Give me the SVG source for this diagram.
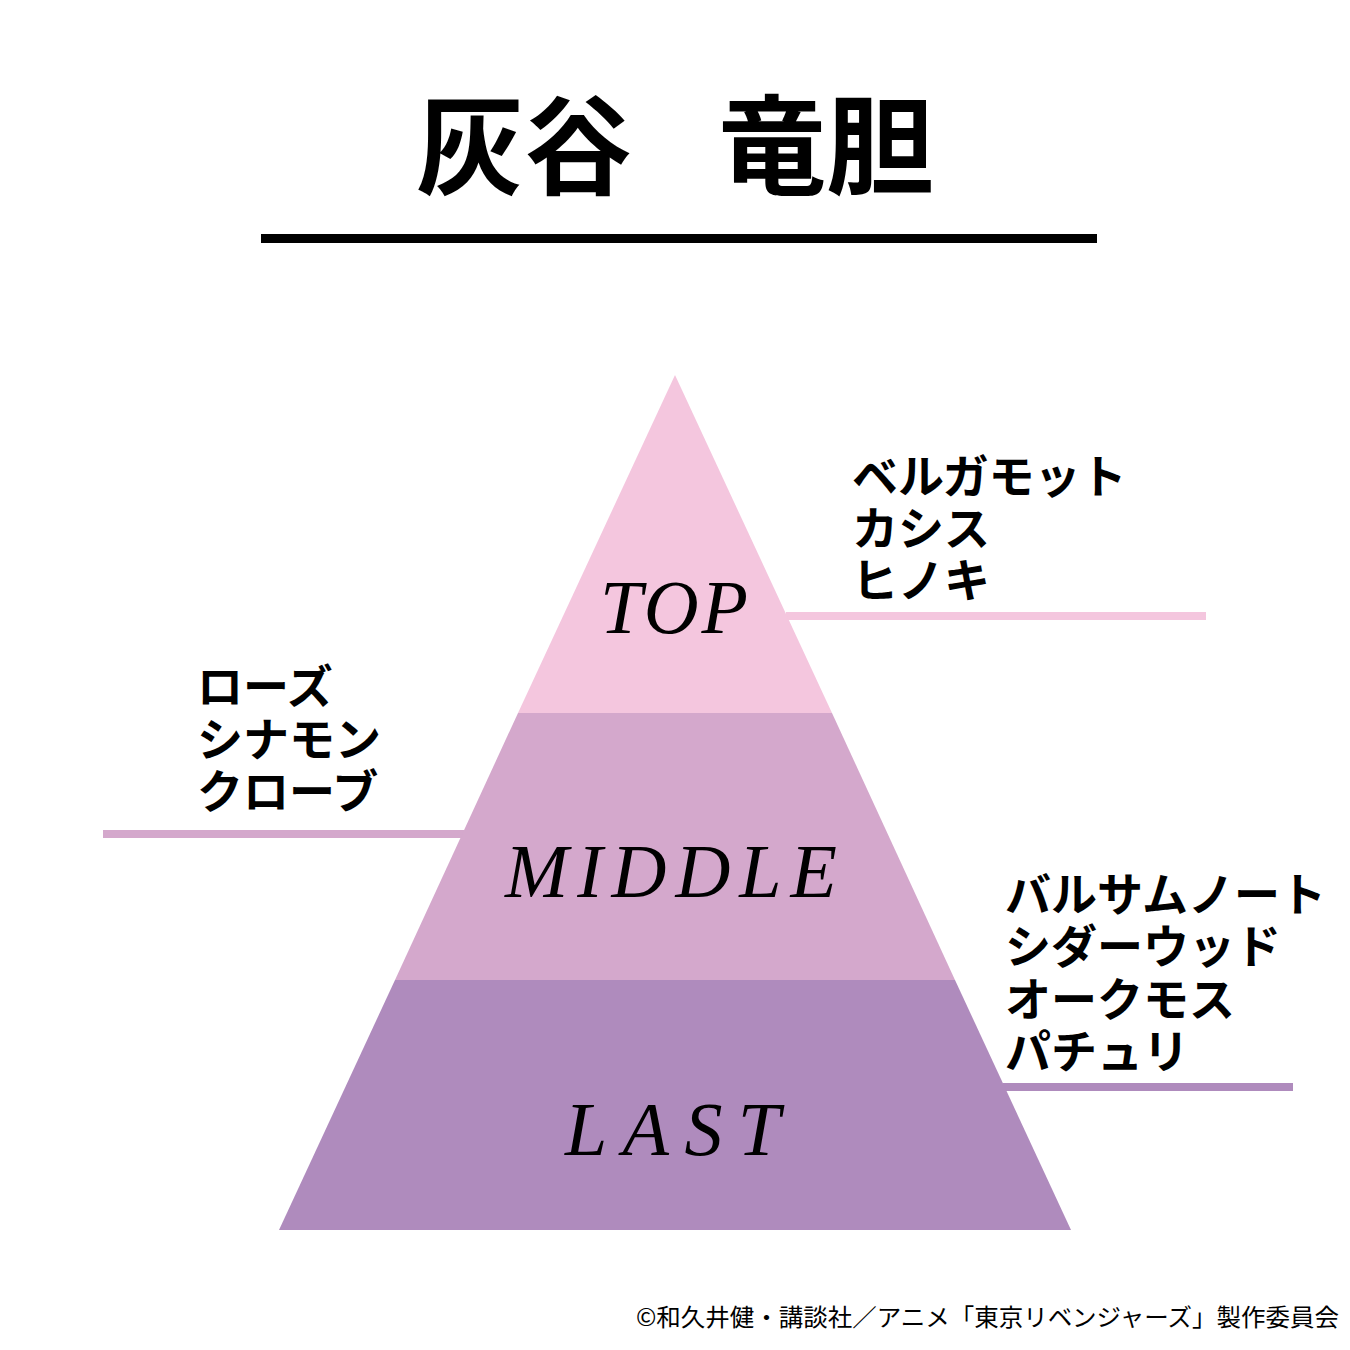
<svg xmlns="http://www.w3.org/2000/svg" width="1350" height="1350" viewBox="0 0 1350 1350">
<style>
.title{font-family:"Noto Sans CJK JP","Noto Sans CJK SC",sans-serif;font-weight:700;font-size:108px;fill:#000}
.tier{font-family:"Liberation Serif","DejaVu Serif",serif;font-style:italic;font-size:76px;fill:#000}
.note{font-family:"Noto Sans CJK JP","Noto Sans CJK SC",sans-serif;font-weight:700;font-size:46px;fill:#000}
.copy{font-family:"Noto Sans CJK JP","Noto Sans CJK SC",sans-serif;font-size:24px;fill:#000}
</style>
<rect width="1350" height="1350" fill="#fff"/>
<g id="title">
<text class="title" x="416" y="186">灰谷　<tspan dx="-22">竜胆</tspan></text>
<rect x="261" y="234" width="836" height="9" fill="#000"/>
</g>
<g id="connectors">
<rect x="786" y="612" width="420" height="8" fill="#F4C6DE"/>
<rect x="103" y="830" width="361" height="8" fill="#D4A8CC"/>
<rect x="1003" y="1083" width="290" height="8" fill="#AF8BBD"/>
</g>
<g id="tier-top">
<polygon points="675,375 832,713 518,713" fill="#F4C6DE"/>
<text class="tier" x="600" y="633" textLength="148" lengthAdjust="spacing">TOP</text>
</g>
<g id="tier-middle">
<polygon points="518,713 832,713 955,980 395,980" fill="#D4A8CC"/>
<text class="tier" x="505" y="897" textLength="332" lengthAdjust="spacing">MIDDLE</text>
</g>
<g id="tier-last">
<polygon points="395,980 955,980 1071,1230 279,1230" fill="#AF8BBD"/>
<text class="tier" x="565" y="1155" textLength="215" lengthAdjust="spacing">LAST</text>
</g>
<g id="notes-top">
<text class="note" x="852" y="493">ベルガモット</text>
<text class="note" x="852" y="545">カシス</text>
<text class="note" x="852" y="597">ヒノキ</text>
</g>
<g id="notes-middle">
<text class="note" x="197" y="703">ローズ</text>
<text class="note" x="197" y="756">シナモン</text>
<text class="note" x="197" y="808">クローブ</text>
</g>
<g id="notes-last">
<text class="note" x="1005" y="911">バルサムノート</text>
<text class="note" x="1005" y="963">シダーウッド</text>
<text class="note" x="1005" y="1016">オークモス</text>
<text class="note" x="1005" y="1068">パチュリ</text>
</g>
<g id="copyright">
<text class="copy" x="636" y="1326" textLength="703" lengthAdjust="spacingAndGlyphs">©和久井健・講談社／アニメ「東京リベンジャーズ」製作委員会</text>
</g>
</svg>
